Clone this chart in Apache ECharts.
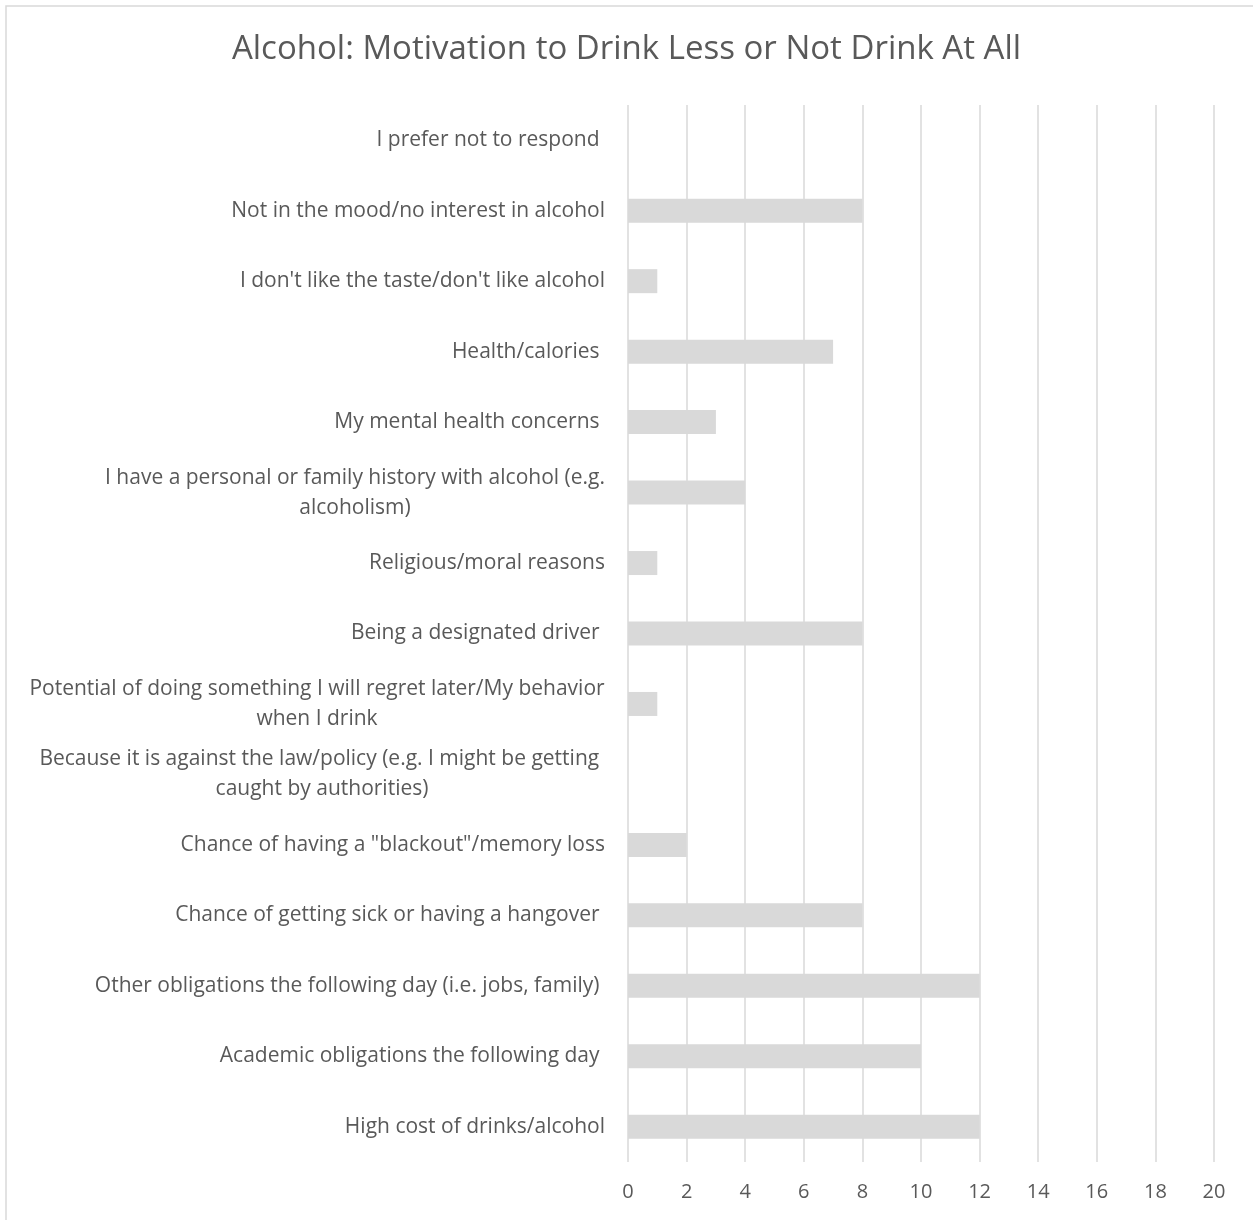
<!DOCTYPE html>
<html><head><meta charset="utf-8">
<script src="https://cdn.jsdelivr.net/npm/echarts@6/dist/echarts.min.js"></script>
<style>html,body{margin:0;padding:0;background:#fff}#c{width:1253px;height:1220px}</style>
</head><body><div id="c"></div>
<script>
const title = 'Alcohol: Motivation to Drink Less or Not Drink At All';
const categories = [
  'I prefer not to respond ',
  'Not in the mood/no interest in alcohol',
  "I don't like the taste/don't like alcohol",
  'Health/calories ',
  'My mental health concerns ',
  'I have a personal or family history with alcohol (e.g.\nalcoholism)',
  'Religious/moral reasons',
  'Being a designated driver ',
  'Potential of doing something I will regret later/My behavior\nwhen I drink',
  'Because it is against the law/policy (e.g. I might be getting \ncaught by authorities)',
  'Chance of having a "blackout"/memory loss',
  'Chance of getting sick or having a hangover ',
  'Other obligations the following day (i.e. jobs, family) ',
  'Academic obligations the following day ',
  'High cost of drinks/alcohol'
];
const values = [0, 8, 1, 7, 3, 4, 1, 8, 1, 0, 2, 8, 12, 10, 12];
const xTicks = [0, 2, 4, 6, 8, 10, 12, 14, 16, 18, 20];

const FONT = 'Open Sans';
const LABEL_SIZE = 21;
const ctx = document.createElement('canvas').getContext('2d');
ctx.font = LABEL_SIZE + 'px "' + FONT + '"';
function blockWidth(v) {
  return Math.ceil(Math.max(...v.split('\n').map(l => ctx.measureText(l).width)));
}
function fmt(v) {
  const lines = v.split('\n');
  if (lines.length === 1) return v;
  const w = blockWidth(v);
  return lines.map(l => '{c' + w + '|' + l + '}').join('\n');
}
const rich = {};
categories.forEach(v => {
  if (v.indexOf('\n') >= 0) {
    const w = blockWidth(v);
    rich['c' + w] = {width: w, align: 'center', fontFamily: FONT, fontSize: LABEL_SIZE, color: '#595959', lineHeight: 30};
  }
});

const chart = echarts.init(document.getElementById('c'), null, {renderer: 'canvas'});
chart.setOption({
  animation: false,
  backgroundColor: '#fff',
  title: {
    text: title, left: 'center', top: 28,
    textStyle: {fontFamily: FONT, fontSize: 33, fontWeight: 'normal', color: '#595959'}
  },
  graphic: [{
    type: 'rect', shape: {x: 6, y: 6, width: 1300, height: 1300},
    style: {fill: 'none', stroke: '#d9d9d9', lineWidth: 1.5}, silent: true, z: -10
  }],
  grid: {left: 628, right: 39, top: 105, bottom: 58, containLabel: false},
  xAxis: {
    type: 'value', min: 0, max: 20, interval: 2,
    axisLine: {show: false}, axisTick: {show: false},
    splitLine: {show: true, lineStyle: {color: '#d9d9d9', width: 1.5}},
    axisLabel: {margin: 20, fontFamily: FONT, fontSize: 20, color: '#595959',
      formatter: v => xTicks.includes(v) ? String(v) : ''}
  },
  yAxis: {
    type: 'category', inverse: true, data: categories,
    axisLine: {show: false}, axisTick: {show: false}, splitLine: {show: false},
    axisLabel: {margin: 23, fontFamily: FONT, fontSize: LABEL_SIZE, color: '#595959',
      lineHeight: 30, interval: 0, formatter: fmt, rich: rich}
  },
  series: [{
    type: 'bar', data: values, barWidth: 24,
    itemStyle: {color: '#d9d9d9'}, silent: true
  }]
});
</script></body></html>
